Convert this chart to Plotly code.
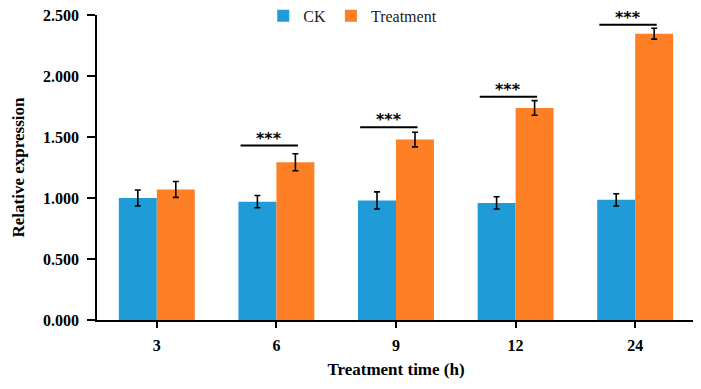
import plotly.graph_objects as go

categories = ["3", "6", "9", "12", "24"]
ck_values = [1.00, 0.97, 0.98, 0.96, 0.985]
ck_errors = [0.065, 0.05, 0.07, 0.05, 0.05]
trt_values = [1.07, 1.293, 1.479, 1.738, 2.347]
trt_errors = [0.065, 0.07, 0.06, 0.06, 0.045]
sig_labels = ["", "***", "***", "***", "***"]
sig_heights = [None, 1.43, 1.58, 1.83, 2.42]
y_ticks = [0, 0.5, 1.0, 1.5, 2.0, 2.5]

BLUE = "#1F9BD7"
ORANGE = "#FE7F26"
SERIF = "Liberation Serif, Times New Roman, serif"

fig = go.Figure()
fig.add_trace(go.Bar(
    x=categories, y=ck_values, name="CK", marker=dict(color=BLUE, line=dict(width=0)),
    error_y=dict(type="data", array=ck_errors, color="black", thickness=1.6, width=3),
))
fig.add_trace(go.Bar(
    x=categories, y=trt_values, name="Treatment", marker=dict(color=ORANGE, line=dict(width=0)),
    error_y=dict(type="data", array=trt_errors, color="black", thickness=1.6, width=3),
))

for i, (lab, h) in enumerate(zip(sig_labels, sig_heights)):
    if not lab:
        continue
    fig.add_shape(type="line", xref="x", yref="y", x0=i - 0.30, x1=i + 0.18, y0=h, y1=h,
                  line=dict(color="black", width=2))
    fig.add_annotation(x=i - 0.06, y=h, xref="x", yref="y", text="<b>" + lab + "</b>",
                       showarrow=False, yanchor="bottom", yshift=-4,
                       font=dict(family="DejaVu Sans, Arial", size=16, color="black"))

fig.update_layout(
    width=701, height=389,
    margin=dict(l=89, r=14, t=7, b=77, autoexpand=False),
    paper_bgcolor="white", plot_bgcolor="white",
    barmode="group", bargap=0.365, bargroupgap=0,
    font=dict(family=SERIF, color="black"),
    showlegend=True,
    legend=dict(orientation="h", x=0.278, y=0.997, xanchor="left", yanchor="middle",
                font=dict(family=SERIF, size=16, color="#222"), bgcolor="rgba(0,0,0,0)",
                itemwidth=30, traceorder="normal"),
    xaxis=dict(
        type="category", range=[-0.5, 4.5], showline=True, linecolor="black", linewidth=1.5,
        ticks="outside", ticklen=6, tickwidth=1.5, tickcolor="black",
        tickfont=dict(family=SERIF, size=16, color="black", weight="bold"),
        ticklabelstandoff=4,
        title=dict(text="<b>Treatment time (h)</b>", font=dict(family=SERIF, size=17, color="black"), standoff=10),
        showgrid=False, zeroline=False,
    ),
    yaxis=dict(
        range=[0, 2.5], tickvals=y_ticks, tickformat=".3f", showline=True, linecolor="black", linewidth=1.5,
        ticks="outside", ticklen=8, tickwidth=1.5, tickcolor="black",
        tickfont=dict(family=SERIF, size=16, color="black", weight="bold"),
        ticklabelstandoff=5, ticklabeloverflow="allow",
        title=dict(text="<b>Relative expression</b>", font=dict(family=SERIF, size=17, color="black"), standoff=14),
        showgrid=False, zeroline=False,
    ),
)

fig.write_html("out.html")
